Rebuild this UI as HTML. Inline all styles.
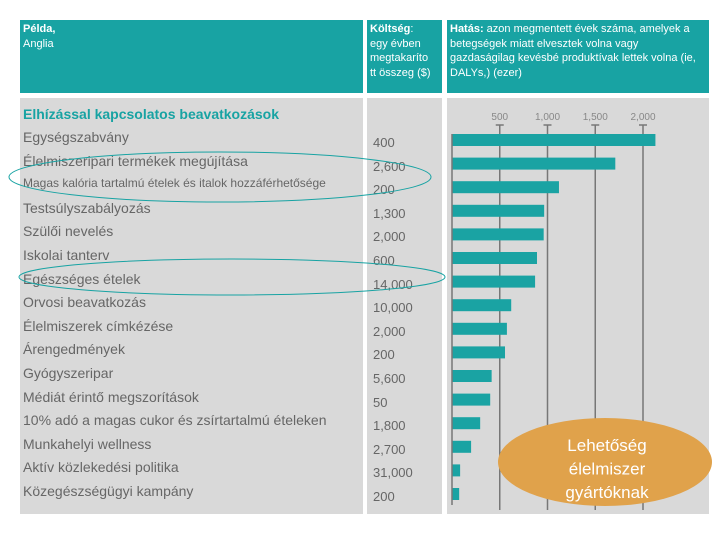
<!DOCTYPE html>
<html><head><meta charset="utf-8"><style>
body{margin:0;width:720px;height:540px;background:#fff;font-family:"Liberation Sans",sans-serif;overflow:hidden;position:relative}
.box{position:absolute}
.hd{background:#18a3a3;color:#fff;font-size:11px;line-height:14.5px;padding:2px 3px;box-sizing:border-box}
.pn{background:#d9d9d9}
.lab,.cost{position:absolute;color:#666;font-size:13px;white-space:nowrap}
.lab{font-size:14px}
</style></head><body>
<div class="box hd" style="left:20px;top:20px;width:343px;height:73px"><b>Példa,</b><br>Anglia</div>
<div class="box hd" style="left:367px;top:20px;width:75px;height:73px;padding-right:8px"><b>Költség</b>:<br>egy évben megtakaríto tt összeg ($)</div>
<div class="box hd" style="left:447px;top:20px;width:262px;height:73px"><b>Hatás:</b> azon megmentett évek száma, amelyek a betegségek miatt elvesztek volna vagy gazdaságilag kevésbé produktívak lettek volna (ie, DALYs,) (ezer)</div>
<div class="box pn" style="left:20px;top:98px;width:343px;height:416px"></div>
<div class="box pn" style="left:367px;top:98px;width:75px;height:416px"></div>
<div class="box pn" style="left:447px;top:98px;width:262px;height:416px"></div>
<div class="lab" style="left:23px;top:106px;color:#18a3a3;font-weight:bold;font-size:14px">Elhízással kapcsolatos beavatkozások</div>
<div id="rows"></div>
<svg id="chart" width="720" height="540" style="position:absolute;left:0;top:0"></svg>
<script>
const labels=["Egységszabvány","Élelmiszeripari termékek megújítása","Magas kalória tartalmú ételek és italok hozzáférhetősége","Testsúlyszabályozás","Szülői nevelés","Iskolai tanterv","Egészséges ételek","Orvosi beavatkozás","Élelmiszerek címkézése","Árengedmények","Gyógyszeripar","Médiát érintő megszorítások","10% adó a magas cukor és zsírtartalmú ételeken","Munkahelyi wellness","Aktív közlekedési politika","Közegészségügyi kampány"];
const costs=["400","2,600","200","1,300","2,000","600","14,000","10,000","2,000","200","5,600","50","1,800","2,700","31,000","200"];
const impacts=[2130,1710,1120,965,960,890,870,620,575,555,415,400,295,200,85,75];
const ticks=[500,1000,1500,2000];
const x0=452,k=0.0955;
const xs=v=>x0+v*k;
const rowY=i=>128+i*23.6;
const rows=document.getElementById('rows');
labels.forEach((t,i)=>{
 const d=document.createElement('div');d.className='lab';
 
 
 d.style.left='23px';d.style.top=(rowY(i)+1)+'px';
 if(i==2)d.style.fontSize='12px';
 d.textContent=t;rows.appendChild(d);
 const c=document.createElement('div');c.className='cost';
 
 
 c.style.left='373px';c.style.top=(rowY(i)+7)+'px';c.textContent=costs[i];rows.appendChild(c);
});
const svg=document.getElementById('chart');const NS='http://www.w3.org/2000/svg';
function mk(tag,a){const e=document.createElementNS(NS,tag);for(const q in a)e.setAttribute(q,a[q]);svg.appendChild(e);return e;}
ticks.forEach(t=>{
 const g=mk('line',{x1:xs(t),x2:xs(t),y1:125,y2:510,stroke:'#777','stroke-width':1.5});
 
 
 mk('line',{x1:xs(t)-4,x2:xs(t)+4,y1:125,y2:125,stroke:'#777','stroke-width':1.5});
 const tx=mk('text',{x:xs(t),y:120,'text-anchor':'middle','font-size':10,fill:'#888','font-family':'Liberation Sans'});
 
 
 tx.textContent=t.toLocaleString('en-US');
});
impacts.forEach((v,i)=>{
 const r=mk('rect',{x:x0,y:rowY(i)+6,width:xs(v)-x0,height:12,fill:'#1aa3a3'});
 
 
});
mk('line',{x1:x0,x2:x0,y1:134,y2:505,stroke:'#777','stroke-width':1.5});
const e1=mk('ellipse',{cx:220,cy:177,rx:211,ry:25,fill:'none',stroke:'#18a3a3','stroke-width':1});


const e2=mk('ellipse',{cx:232,cy:277,rx:213,ry:18,fill:'none',stroke:'#18a3a3','stroke-width':1});


const e3=mk('ellipse',{cx:605,cy:462,rx:107,ry:44,fill:'#e0a24b'});


["Lehetőség","élelmiszer","gyártóknak"].forEach((t,i)=>{
 const tx=mk('text',{x:607,y:451+i*23.5,'text-anchor':'middle','font-size':17,fill:'#fff','font-family':'Liberation Sans'});
 
 
 tx.textContent=t;
});
</script>
</body></html>
